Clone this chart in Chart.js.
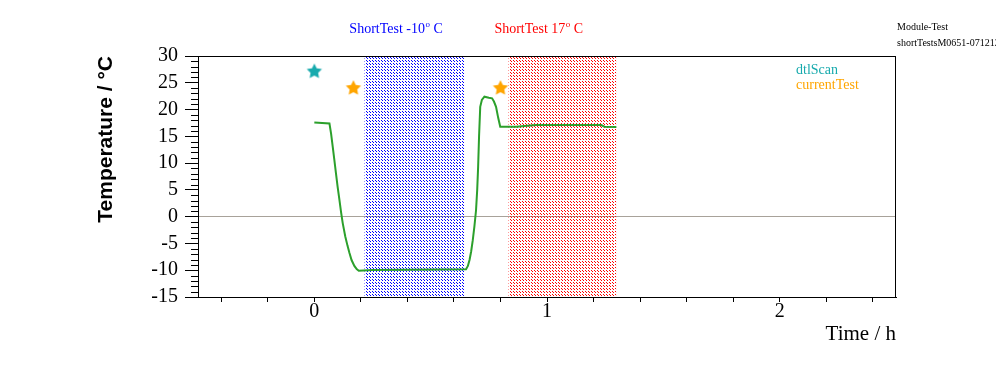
<!DOCTYPE html>
<html><head><meta charset="utf-8">
<script src="https://cdn.jsdelivr.net/npm/chart.js@4.4.1/dist/chart.umd.min.js"></script>
<style>html,body{margin:0;padding:0;background:#fff;}#wrap{width:996px;height:372px;}</style>
</head><body><div id="wrap"><canvas id="c" width="996" height="372"></canvas></div>
<script>
// ---- data ----
const timeH = [0, 0.065, 0.072, 0.079, 0.086, 0.093, 0.100, 0.108, 0.115, 0.122, 0.133, 0.143, 0.151, 0.160, 0.172, 0.182, 0.191, 0.25, 0.40, 0.55, 0.652, 0.660, 0.667, 0.674, 0.681, 0.688, 0.695, 0.700, 0.704, 0.708, 0.713, 0.720, 0.731, 0.750, 0.764, 0.772, 0.781, 0.790, 0.799, 0.867, 0.953, 1.10, 1.233, 1.247, 1.298];
const tempC = [17.6, 17.4, 15.5, 13.1, 10.6, 8.1, 5.6, 3.1, 0.8, -1.2, -3.7, -5.5, -6.8, -8.1, -9.2, -9.8, -10.1, -9.95, -9.9, -9.85, -9.8, -9.2, -8.1, -6.5, -4.4, -1.8, 1.2, 5.0, 9.3, 15.0, 20.5, 21.8, 22.4, 22.2, 22.1, 21.5, 20.5, 18.5, 16.8, 16.8, 17.1, 17.1, 17.1, 16.8, 16.75];
const dtlScanTime = [0];
const dtlScanTemp = [27.1];
const currentTestTime = [0.168, 0.80];
const currentTestTemp = [24, 24];
const coldBand = [0.215, 0.648];
const warmBand = [0.834, 1.298];
const coldLabel = ['ShortTest -10', 'o', ' C'];
const warmLabel = ['ShortTest 17', 'o', ' C'];
const xTickValues = [-0.4, -0.2, 0, 0.2, 0.4, 0.6, 0.8, 1, 1.2, 1.4, 1.6, 1.8, 2, 2.2, 2.4];
const xLabelValues = [0, 1, 2];
const yTickValues = [-15, -10, -5, 0, 5, 10, 15, 20, 25, 30];
const headerLines = ['Module-Test', 'shortTestsM0651-071212'];
const legendNames = ['dtlScan', 'currentTest'];

// ---- styles ----
const GREEN = '#2ca02c', CYAN = '#17aaad', ORANGE = '#ffa500';
const SERIF = 'Liberation Serif', SANS = 'Liberation Sans';

function hatch(color) {
  const c = document.createElement('canvas'); c.width = 3; c.height = 3;
  const g = c.getContext('2d'); g.fillStyle = color;
  g.fillRect(0, 0, 1, 1); g.fillRect(1, 1, 1, 1);
  return document.getElementById('c').getContext('2d').createPattern(c, 'repeat');
}
function star(color, r) {
  const s = Math.ceil(r * 2 + 2);
  const c = document.createElement('canvas'); c.width = s; c.height = s;
  const g = c.getContext('2d'); g.fillStyle = color; g.beginPath();
  for (let i = 0; i < 10; i++) {
    const rr = i % 2 === 0 ? r : r * 0.5;
    const a = -Math.PI / 2 + i * Math.PI / 5;
    const px = s / 2 + rr * Math.cos(a), py = s / 2 + rr * Math.sin(a);
    i === 0 ? g.moveTo(px, py) : g.lineTo(px, py);
  }
  g.closePath(); g.fill();
  return c;
}

const frameAndText = {
  id: 'frameAndText',
  afterDatasetsDraw(chart) {
    const { ctx, chartArea: a, scales: { x, y } } = chart;
    ctx.save();
    ctx.strokeStyle = '#000'; ctx.lineWidth = 1;
    ctx.strokeRect(Math.round(a.left) + 0.5, Math.round(a.top) + 0.5, Math.round(a.right - a.left) - 1, Math.round(a.bottom - a.top));
    // minor y ticks
    ctx.beginPath();
    for (let v = y.min; v <= y.max; v++) {
      if (v % 5 === 0) continue;
      const py = Math.round(y.getPixelForValue(v)) + 0.5;
      ctx.moveTo(a.left - 7, py); ctx.lineTo(a.left, py);
    }
    ctx.stroke();
    // band labels
    const drawSup = (parts, px, py, color) => {
      ctx.fillStyle = color; ctx.textBaseline = 'alphabetic'; ctx.textAlign = 'left';
      ctx.font = '14px "' + SERIF + '"';
      ctx.fillText(parts[0], px, py); let w = ctx.measureText(parts[0]).width;
      ctx.font = '9px "' + SERIF + '"';
      ctx.fillText(parts[1], px + w + 0.5, py - 6); w += ctx.measureText(parts[1]).width + 0.5;
      ctx.font = '14px "' + SERIF + '"';
      ctx.fillText(parts[2], px + w, py);
    };
    drawSup(coldLabel, x.getPixelForValue(coldBand[0]) - 15, 33, '#0000ff');
    drawSup(warmLabel, x.getPixelForValue(warmBand[0]) - 14, 33, '#ff0000');
    // header
    ctx.fillStyle = '#000'; ctx.font = '10px "' + SERIF + '"'; ctx.textBaseline = 'middle';
    ctx.fillText(headerLines[0], 897, 27);
    ctx.fillText(headerLines[1], 897, 43);
    // legend
    ctx.font = '14px "' + SERIF + '"';
    ctx.fillStyle = CYAN; ctx.fillText(legendNames[0], 796, 70);
    ctx.fillStyle = ORANGE; ctx.fillText(legendNames[1], 796, 85);
    ctx.restore();
  }
};

const pairs = (xs, ys) => xs.map((v, i) => ({ x: v, y: ys[i] }));

new Chart(document.getElementById('c'), {
  type: 'line',
  data: {
    datasets: [
      { label: 'cold', data: [{ x: coldBand[0], y: 30 }, { x: coldBand[1], y: 30 }], fill: 'start', backgroundColor: hatch('#0000ff'), borderWidth: 0, pointRadius: 0, order: 3 },
      { label: 'warm', data: [{ x: warmBand[0], y: 30 }, { x: warmBand[1], y: 30 }], fill: 'start', backgroundColor: hatch('#ff0000'), borderWidth: 0, pointRadius: 0, order: 3 },
      { label: 'Temperature', data: pairs(timeH, tempC), borderColor: GREEN, borderWidth: 2, pointRadius: 0, fill: false, tension: 0, order: 2 },
      { label: legendNames[0], data: pairs(dtlScanTime, dtlScanTemp), showLine: false, pointStyle: star(CYAN, 8), pointRadius: 8, order: 1 },
      { label: legendNames[1], data: pairs(currentTestTime, currentTestTemp), showLine: false, pointStyle: star(ORANGE, 8), pointRadius: 8, order: 1 }
    ]
  },
  options: {
    responsive: false, animation: false, devicePixelRatio: 1,
    layout: { padding: { top: 56, right: 100, left: 0, bottom: 0 } },
    plugins: { legend: { display: false }, tooltip: { enabled: false } },
    scales: {
      x: {
        type: 'linear', position: 'bottom', min: -0.5, max: 2.5,
        afterBuildTicks: s => { s.ticks = xTickValues.map(v => ({ value: v })); },
        afterFit: s => { s.height = 75; },
        ticks: { autoSkip: false, maxRotation: 0, padding: -2, color: '#000', font: { family: SERIF, size: 20 },
          callback: v => xLabelValues.includes(Math.round(v * 1000) / 1000) ? String(Math.round(v)) : '' },
        grid: { drawOnChartArea: false, tickLength: 5, color: '#000', tickColor: '#000' },
        border: { display: true, color: '#000' },
        title: { display: true, text: 'Time / h', align: 'end', color: '#000', font: { family: SERIF, size: 21 }, padding: { top: 0, bottom: 25 } }
      },
      y: {
        type: 'linear', position: 'left', min: -15, max: 30,
        afterBuildTicks: s => { s.ticks = yTickValues.map(v => ({ value: v })); },
        afterFit: s => { s.width = 198; },
        ticks: { autoSkip: false, padding: 7, color: '#000', font: { family: SERIF, size: 20 } },
        grid: { drawOnChartArea: true, tickLength: 13, tickColor: '#000',
          color: c => (c.tick && c.tick.value === 0) ? '#a8a29a' : 'rgba(0,0,0,0)' },
        border: { display: true, color: '#000' },
        title: { display: true, text: 'Temperature / °C', align: 'end', color: '#000', font: { family: SANS, size: 21, weight: 'bold' }, padding: { top: 94, bottom: 0 } }
      }
    }
  },
  plugins: [frameAndText]
});
</script></body></html>
